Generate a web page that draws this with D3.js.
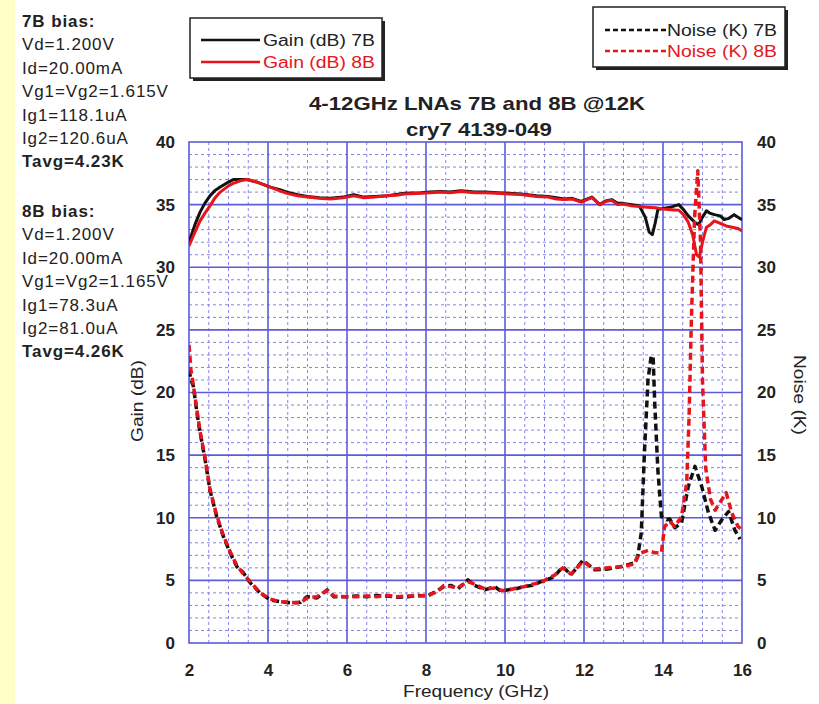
<!DOCTYPE html>
<html>
<head>
<meta charset="utf-8">
<script src="https://cdn.jsdelivr.net/npm/d3@7"></script>
<style>
  html, body { margin: 0; padding: 0; background: #fff; }
  svg { display: block; font-family: 'Liberation Sans', Arial, sans-serif; }
</style>
</head>
<body>
<div id="chart"></div>
<script>
// frequency (GHz) / value pairs
const gain7BFreq = [2.0, 2.15, 2.28, 2.4, 2.53, 2.65, 2.79, 3.0, 3.12, 3.3, 3.47, 3.72, 4.06, 4.3, 4.48, 4.75, 5.0, 5.3, 5.58, 5.9, 6.17, 6.43, 6.7, 7.02, 7.25, 7.45, 7.87, 8.1, 8.38, 8.6, 8.89, 9.23, 9.5, 9.8, 10.1, 10.4, 10.8, 11.09, 11.3, 11.5, 11.7, 11.93, 12.2, 12.4, 12.55, 12.7, 12.85, 13.0, 13.2, 13.4, 13.55, 13.65, 13.73, 13.8, 13.87, 14.0, 14.2, 14.4, 14.52, 14.64, 14.8, 14.9, 15.0, 15.1, 15.2, 15.3, 15.45, 15.55, 15.66, 15.8, 15.9, 16.0];
const gain7BVals = [32.0, 33.4, 34.4, 35.1, 35.7, 36.1, 36.4, 36.8, 37.0, 37.0, 37.0, 36.8, 36.4, 36.2, 36.0, 35.8, 35.65, 35.55, 35.5, 35.6, 35.8, 35.6, 35.65, 35.7, 35.8, 35.9, 35.95, 36.0, 36.05, 36.0, 36.1, 36.0, 36.0, 35.95, 35.9, 35.85, 35.7, 35.65, 35.55, 35.45, 35.5, 35.25, 35.6, 35.0, 35.3, 35.4, 35.1, 35.1, 35.0, 34.9, 34.0, 32.8, 32.6, 33.5, 34.6, 34.7, 34.8, 35.0, 34.6, 34.1, 33.6, 33.4, 34.0, 34.5, 34.3, 34.2, 34.1, 33.8, 33.9, 34.2, 34.0, 33.8];

const gain8BFreq = [2.0, 2.15, 2.28, 2.4, 2.53, 2.65, 2.79, 3.0, 3.12, 3.3, 3.47, 3.72, 4.06, 4.3, 4.48, 4.75, 5.0, 5.3, 5.58, 5.9, 6.17, 6.43, 6.7, 7.02, 7.25, 7.45, 7.87, 8.1, 8.38, 8.6, 8.89, 9.23, 9.5, 9.8, 10.1, 10.4, 10.8, 11.09, 11.3, 11.5, 11.7, 11.93, 12.2, 12.4, 12.55, 12.7, 12.85, 13.0, 13.2, 13.4, 13.6, 13.8, 14.0, 14.2, 14.4, 14.52, 14.64, 14.75, 14.85, 14.92, 15.0, 15.1, 15.2, 15.3, 15.45, 15.6, 15.75, 15.9, 16.0];
const gain8BVals = [31.7, 32.8, 33.7, 34.3, 34.9, 35.5, 36.0, 36.5, 36.7, 36.9, 37.0, 36.8, 36.4, 36.1, 35.9, 35.7, 35.6, 35.5, 35.45, 35.55, 35.7, 35.55, 35.6, 35.7, 35.75, 35.85, 35.9, 35.95, 36.0, 35.95, 36.05, 35.95, 35.95, 35.9, 35.85, 35.8, 35.65, 35.6, 35.45, 35.4, 35.45, 35.2, 35.55, 35.0, 35.25, 35.35, 35.0, 35.05, 34.9, 34.85, 34.8, 34.75, 34.65, 34.6, 34.55, 34.2, 33.6, 32.6, 31.0, 30.8, 32.0, 33.2, 33.4, 33.7, 33.5, 33.3, 33.2, 33.1, 32.9];

const noise7BFreq = [2.0, 2.05, 2.11, 2.2, 2.28, 2.41, 2.53, 2.7, 2.87, 3.04, 3.21, 3.38, 3.55, 3.8, 4.06, 4.31, 4.57, 4.82, 4.99, 5.24, 5.5, 5.67, 6.0, 6.25, 6.51, 6.75, 7.02, 7.3, 7.53, 7.8, 8.04, 8.29, 8.45, 8.63, 8.8, 9.06, 9.23, 9.49, 9.74, 9.91, 10.06, 10.3, 10.48, 10.7, 10.91, 11.1, 11.25, 11.46, 11.67, 11.97, 12.27, 12.6, 12.94, 13.28, 13.36, 13.45, 13.53, 13.62, 13.7, 13.75, 13.79, 13.87, 13.96, 14.09, 14.17, 14.3, 14.47, 14.64, 14.81, 14.98, 15.15, 15.32, 15.48, 15.66, 15.82, 15.95];
const noise7BVals = [21.8, 21.0, 20.5, 18.4, 16.8, 14.6, 12.2, 10.1, 8.5, 7.2, 6.1, 5.6, 4.8, 4.0, 3.44, 3.3, 3.2, 3.25, 3.7, 3.6, 4.24, 3.7, 3.7, 3.75, 3.7, 3.8, 3.75, 3.65, 3.7, 3.8, 3.75, 4.2, 4.5, 4.6, 4.3, 5.04, 4.6, 4.24, 4.5, 4.1, 4.24, 4.35, 4.5, 4.6, 4.9, 5.1, 5.3, 6.1, 5.44, 6.6, 5.84, 5.9, 6.1, 6.4, 6.9, 8.8, 15.2, 21.0, 22.9, 22.9, 19.2, 13.8, 10.1, 9.84, 9.9, 9.2, 9.6, 12.5, 14.1, 12.5, 10.4, 9.0, 9.8, 10.5, 9.0, 8.3];

const noise8BFreq = [2.0, 2.05, 2.11, 2.2, 2.28, 2.41, 2.53, 2.7, 2.87, 3.04, 3.21, 3.38, 3.55, 3.8, 4.06, 4.31, 4.57, 4.82, 4.99, 5.24, 5.5, 5.67, 6.0, 6.25, 6.51, 6.75, 7.02, 7.3, 7.53, 7.8, 8.04, 8.29, 8.45, 8.63, 8.8, 9.06, 9.23, 9.49, 9.74, 9.91, 10.06, 10.3, 10.48, 10.7, 10.91, 11.1, 11.25, 11.46, 11.67, 11.97, 12.27, 12.6, 12.94, 13.28, 13.36, 13.45, 13.62, 13.79, 13.96, 14.04, 14.17, 14.3, 14.47, 14.6, 14.66, 14.72, 14.8, 14.88, 14.95, 15.0, 15.08, 15.2, 15.32, 15.48, 15.6, 15.74, 15.9, 16.0];
const noise8BVals = [23.8, 21.8, 20.6, 18.6, 16.9, 14.7, 12.3, 10.2, 8.6, 7.3, 6.2, 5.5, 4.9, 4.0, 3.5, 3.3, 3.25, 3.2, 3.6, 3.7, 4.2, 3.75, 3.7, 3.7, 3.75, 3.7, 3.8, 3.7, 3.75, 3.75, 3.8, 4.1, 4.6, 4.5, 4.4, 4.9, 4.7, 4.3, 4.4, 4.2, 4.2, 4.4, 4.5, 4.7, 4.8, 5.2, 5.4, 6.0, 5.5, 6.5, 5.9, 6.0, 6.1, 6.3, 6.9, 7.2, 7.4, 7.2, 7.2, 9.3, 9.7, 9.3, 10.1, 12.8, 18.0, 26.0, 34.0, 37.7, 32.0, 21.0, 14.0, 11.5, 10.6, 11.4, 12.0, 10.4, 9.3, 9.04];

const xTicks = [2, 4, 6, 8, 10, 12, 14, 16];
const yTicks = [0, 5, 10, 15, 20, 25, 30, 35, 40];

const bias7B = ['7B bias:', 'Vd=1.200V', 'Id=20.00mA', 'Vg1=Vg2=1.615V', 'Ig1=118.1uA', 'Ig2=120.6uA', 'Tavg=4.23K'];
const bias8B = ['8B bias:', 'Vd=1.200V', 'Id=20.00mA', 'Vg1=Vg2=1.165V', 'Ig1=78.3uA', 'Ig2=81.0uA', 'Tavg=4.26K'];

const series = [
  { name: 'Gain (dB) 7B', freq: gain7BFreq, vals: gain7BVals, color: '#111', dash: null },
  { name: 'Gain (dB) 8B', freq: gain8BFreq, vals: gain8BVals, color: '#e8141c', dash: null },
  { name: 'Noise (K) 7B', freq: noise7BFreq, vals: noise7BVals, color: '#111', dash: '7,4' },
  { name: 'Noise (K) 8B', freq: noise8BFreq, vals: noise8BVals, color: '#e8141c', dash: '7,4' },
];

const width = 819;
const height = 704;
const plot = { left: 189, right: 742, top: 142, bottom: 643 };
const blue = '#5c5cd8';
const blueMinor = '#8484e4';

const svg = d3.select('#chart')
  .append('svg')
  .attr('width', width)
  .attr('height', height)
  .attr('viewBox', `0 0 ${width} ${height}`);

svg.append('rect').attr('width', width).attr('height', height).attr('fill', '#fff');
svg.append('rect').attr('width', 15).attr('height', height).attr('fill', '#ffffc8');

const x = d3.scaleLinear().domain([2, 16]).range([plot.left, plot.right]);
const yGain = d3.scaleLinear().domain([0, 40]).range([plot.bottom, plot.top]);
const yNoise = d3.scaleLinear().domain([0, 40]).range([plot.bottom, plot.top]);

// grid
const grid = svg.append('g');
grid.selectAll('.vminor')
  .data(d3.range(2.5, 16, 0.5).filter(d => d % 2 !== 0))
  .join('line')
  .attr('x1', d => x(d)).attr('x2', d => x(d))
  .attr('y1', plot.top).attr('y2', plot.bottom)
  .attr('stroke', blueMinor).attr('stroke-width', 1).attr('stroke-dasharray', '3,3');
grid.selectAll('.hminor')
  .data(d3.range(1, 40, 1).filter(d => d % 5 !== 0))
  .join('line')
  .attr('x1', plot.left).attr('x2', plot.right)
  .attr('y1', d => yGain(d)).attr('y2', d => yGain(d))
  .attr('stroke', blueMinor).attr('stroke-width', 1).attr('stroke-dasharray', '3,3');
grid.selectAll('.vmajor')
  .data(xTicks.slice(1, -1))
  .join('line')
  .attr('x1', d => x(d)).attr('x2', d => x(d))
  .attr('y1', plot.top).attr('y2', plot.bottom)
  .attr('stroke', blue).attr('stroke-width', 1.6);
grid.selectAll('.hmajor')
  .data(yTicks.slice(1, -1))
  .join('line')
  .attr('x1', plot.left).attr('x2', plot.right)
  .attr('y1', d => yGain(d)).attr('y2', d => yGain(d))
  .attr('stroke', blue).attr('stroke-width', 1.6);
svg.append('rect')
  .attr('x', plot.left).attr('y', plot.top)
  .attr('width', plot.right - plot.left).attr('height', plot.bottom - plot.top)
  .attr('fill', 'none').attr('stroke', blue).attr('stroke-width', 1.6);

// axes
const styleAxis = (g) => {
  g.select('.domain').remove();
  g.selectAll('text')
    .attr('font-size', 17).attr('font-weight', 'bold').attr('fill', '#222')
    .attr('font-family', "'Liberation Sans', Arial, sans-serif");
};
svg.append('g')
  .attr('transform', `translate(0,${plot.bottom})`)
  .call(d3.axisBottom(x).tickValues(xTicks).tickSize(0).tickPadding(21).tickFormat(d3.format('d')))
  .call(styleAxis);
svg.append('g')
  .attr('transform', `translate(${plot.left},0)`)
  .call(d3.axisLeft(yGain).tickValues(yTicks).tickSize(0).tickPadding(14))
  .call(styleAxis);
svg.append('g')
  .attr('transform', `translate(${plot.right},0)`)
  .call(d3.axisRight(yNoise).tickValues(yTicks).tickSize(0).tickPadding(15))
  .call(styleAxis);

// curves
svg.append('clipPath').attr('id', 'clip')
  .append('rect')
  .attr('x', plot.left).attr('y', plot.top - 2)
  .attr('width', plot.right - plot.left).attr('height', plot.bottom - plot.top + 2);

const curves = svg.append('g').attr('clip-path', 'url(#clip)');
series.forEach((s, i) => {
  const yScale = i < 2 ? yGain : yNoise;
  const line = d3.line()
    .x(d => x(d[0]))
    .y(d => yScale(d[1]));
  curves.append('path')
    .datum(d3.zip(s.freq, s.vals))
    .attr('d', line)
    .attr('fill', 'none')
    .attr('stroke', s.color)
    .attr('stroke-width', s.dash ? 3.5 : 3)
    .attr('stroke-linejoin', 'round')
    .attr('stroke-dasharray', s.dash);
});

// titles
const title = svg.append('g')
  .attr('font-weight', 'bold').attr('font-size', 19).attr('fill', '#222')
  .attr('text-anchor', 'middle');
title.append('text').attr('x', 477).attr('y', 110)
  .attr('textLength', 336).attr('lengthAdjust', 'spacingAndGlyphs')
  .text('4-12GHz LNAs 7B and 8B @12K');
title.append('text').attr('x', 479).attr('y', 136)
  .attr('textLength', 146).attr('lengthAdjust', 'spacingAndGlyphs')
  .text('cry7 4139-049');

svg.append('text')
  .attr('x', 476).attr('y', 697)
  .attr('text-anchor', 'middle').attr('font-size', 17).attr('fill', '#222')
  .attr('textLength', 146).attr('lengthAdjust', 'spacingAndGlyphs')
  .text('Frequency (GHz)');
svg.append('text')
  .attr('transform', 'translate(143,401) rotate(-90)')
  .attr('text-anchor', 'middle').attr('font-size', 16).attr('fill', '#222')
  .attr('textLength', 82).attr('lengthAdjust', 'spacingAndGlyphs')
  .text('Gain (dB)');
svg.append('text')
  .attr('transform', 'translate(794,395) rotate(90)')
  .attr('text-anchor', 'middle').attr('font-size', 16).attr('fill', '#222')
  .attr('textLength', 80).attr('lengthAdjust', 'spacingAndGlyphs')
  .text('Noise (K)');

// legends
function legend(g, x0, y0, w, h, items, sampleX, textX, rowY, textLen) {
  g.append('rect').attr('x', x0 + 3).attr('y', y0 + 3).attr('width', w).attr('height', h).attr('fill', '#222');
  g.append('rect').attr('x', x0).attr('y', y0).attr('width', w).attr('height', h)
    .attr('fill', '#fff').attr('stroke', '#222').attr('stroke-width', 1.5);
  items.forEach((s, i) => {
    g.append('line')
      .attr('x1', sampleX[0]).attr('x2', sampleX[1])
      .attr('y1', rowY[i]).attr('y2', rowY[i])
      .attr('stroke', s.color).attr('stroke-width', 2.5)
      .attr('stroke-dasharray', s.dash ? '5,3' : null);
    g.append('text')
      .attr('x', textX).attr('y', rowY[i] + 6)
      .attr('font-size', 16).attr('fill', s.color === '#111' ? '#222' : s.color)
      .attr('textLength', textLen).attr('lengthAdjust', 'spacingAndGlyphs')
      .text(s.name);
  });
}
legend(svg.append('g'), 190, 18, 192, 60, series.slice(0, 2), [201, 260], 263, [40, 62], 112);
legend(svg.append('g'), 593, 7, 192, 60, series.slice(2), [605, 666], 667, [30, 51], 110);

// bias notes
const notes = svg.append('g').attr('font-size', 17).attr('fill', '#222').attr('letter-spacing', 0.9);
[[bias7B, 27], [bias8B, 217]].forEach(([lines, y0]) => {
  lines.forEach((t, i) => {
    const bold = i === 0 || i === lines.length - 1;
    notes.append('text')
      .attr('x', 22).attr('y', y0 + i * 23.4)
      .attr('font-weight', bold ? 'bold' : 'normal')
      .text(t);
  });
});
</script>
</body>
</html>
